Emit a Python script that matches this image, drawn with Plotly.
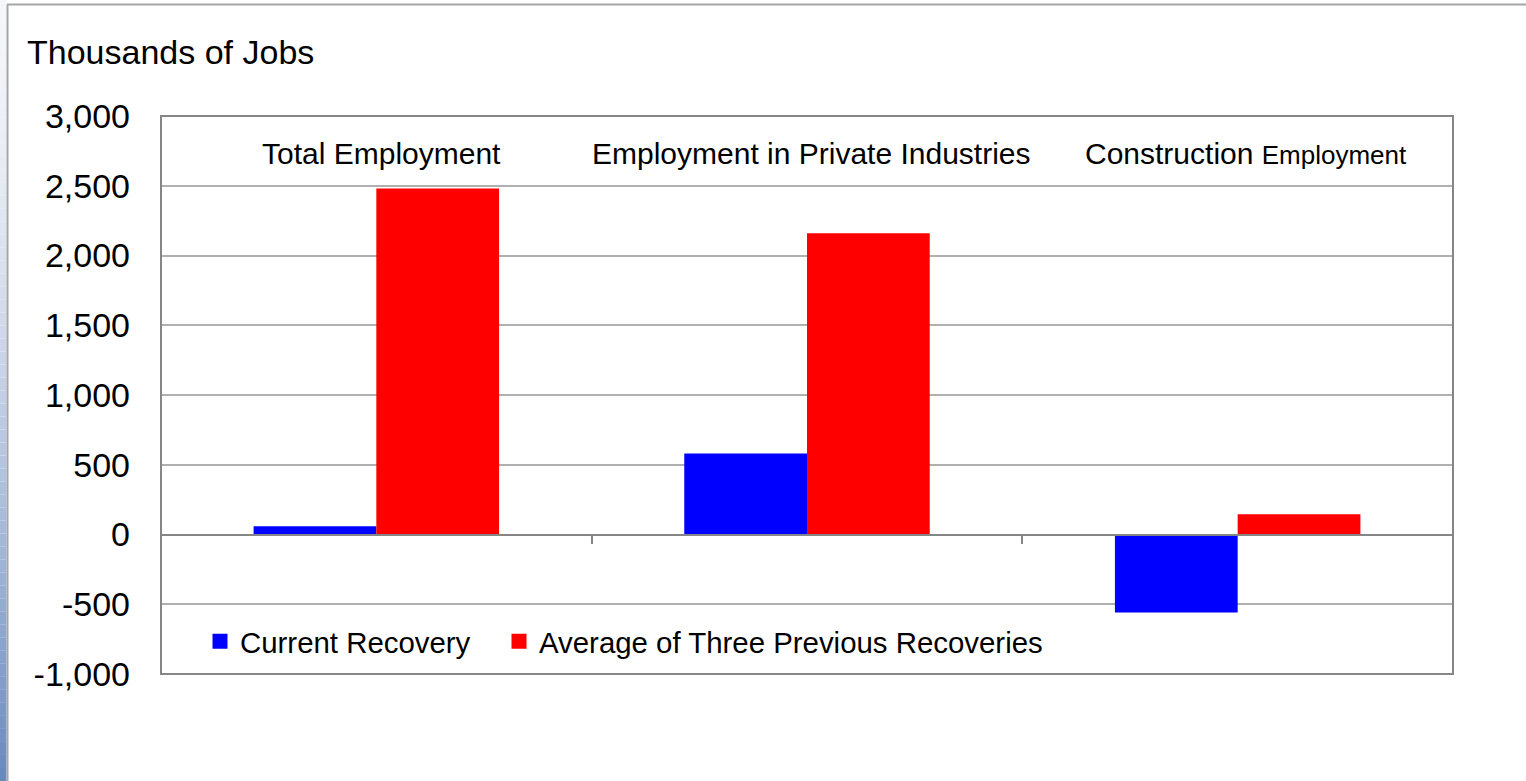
import plotly.graph_objects as go

categories = ["Total Employment", "Employment in Private Industries", "Construction Employment"]
current_recovery = [60, 580, -560]
previous_avg = [2480, 2160, 145]
series_names = ["Current Recovery", "Average of Three Previous Recoveries"]
series_colors = ["#0000FF", "#FF0000"]
y_tickvals = [-1000, -500, 0, 500, 1000, 1500, 2000, 2500, 3000]
y_ticktext = ["-1,000", "-500", "0", "500", "1,000", "1,500", "2,000", "2,500", "3,000"]
y_range = [-1000, 3000]

FONT = "Arial, Liberation Sans, sans-serif"
W, H = 1526, 781
ML, MR, MT, MB = 161, 73, 116, 107
PW, PH = W - ML - MR, H - MT - MB

fig = go.Figure()
for name, vals, col in zip(series_names, [current_recovery, previous_avg], series_colors):
    fig.add_trace(go.Bar(x=categories, y=vals, name=name, marker=dict(color=col, line=dict(width=0)),
                         showlegend=False))
# legend proxies (larger square symbols), each in its own legend for exact placement
legend_ids = ["legend", "legend2"]
for name, col, lg in zip(series_names, series_colors, legend_ids):
    fig.add_trace(go.Scatter(x=[None], y=[None], mode="markers", name=name, legend=lg,
                             marker=dict(symbol="square", size=15, color=col)))

# category labels inside top of plot area
for i, cat in enumerate(categories):
    if cat.startswith("Construction"):
        txt = 'Construction <span style="font-size:26px">Employment</span>'
    else:
        txt = cat
    fig.add_annotation(x=cat, xref="x", y=0.932, yref="paper", text=txt, showarrow=False,
                       yanchor="middle", xanchor="center",
                       xshift=5 if i == 0 else (4 if i == 1 else 8),
                       font=dict(family=FONT, size=30, color="#000000"))

shapes = []
# plot-area border
shapes.append(dict(type="rect", xref="paper", yref="paper", x0=0, x1=1, y0=0, y1=1,
                   line=dict(color="#868686", width=2), layer="above"))
# left gradient strip (decorative frame)
n = 60
top_c = (0xF4, 0xF6, 0xFA)
bot_c = (0x6A, 0x8A, 0xBE)
x_left = (0 - ML) / PW
x_right = (6.5 - ML) / PW
for k in range(n):
    t = k / (n - 1)
    t2 = t ** 1.5
    c = tuple(int(round(top_c[j] + (bot_c[j] - top_c[j]) * t2)) for j in range(3))
    y0p = (H - MB - (k * H / n)) / PH
    y1p = (H - MB - ((k + 1) * H / n)) / PH
    shapes.append(dict(type="rect", xref="paper", yref="paper", x0=x_left, x1=x_right,
                       y0=y1p, y1=y0p, line=dict(width=0),
                       fillcolor="rgb(%d,%d,%d)" % c, layer="below"))
# outer frame lines (top and left)
shapes.append(dict(type="line", xref="paper", yref="paper", x0=(7 - ML) / PW, x1=(W - ML) / PW,
                   y0=(H - MB - 4.5) / PH, y1=(H - MB - 4.5) / PH,
                   line=dict(color="#A6A6A6", width=2)))
shapes.append(dict(type="line", xref="paper", yref="paper", x0=(7.5 - ML) / PW, x1=(7.5 - ML) / PW,
                   y0=(H - MB - 4.5) / PH, y1=(0 - MB) / PH,
                   line=dict(color="#A6A6A6", width=2)))

zero_pos = (0 - y_range[0]) / (y_range[1] - y_range[0])

legend_common = dict(orientation="h", y=0.058, yanchor="middle", bgcolor="rgba(0,0,0,0)",
                     borderwidth=0, font=dict(family=FONT, size=29.4, color="#000000"),
                     itemclick=False, itemdoubleclick=False)

fig.update_layout(
    width=W, height=H,
    margin=dict(l=ML, r=MR, t=MT, b=MB, autoexpand=False),
    paper_bgcolor="white", plot_bgcolor="white",
    barmode="group", bargap=0.43, bargroupgap=0,
    title=dict(text="Thousands of Jobs", xref="container", yref="container",
               x=27 / W, xanchor="left", y=1 - 52 / H, yanchor="middle",
               font=dict(family=FONT, size=34, color="#000000")),
    xaxis=dict(type="category", range=[-0.5, 2.5], anchor="free", position=zero_pos,
               showline=True, linecolor="#868686", linewidth=2,
               ticks="outside", tickson="boundaries", ticklen=8, tickwidth=1.5, tickcolor="#868686",
               showticklabels=False, showgrid=False, zeroline=False, fixedrange=True),
    yaxis=dict(range=y_range, tickvals=y_tickvals, ticktext=y_ticktext,
               showgrid=True, gridcolor="#B0B0B0", gridwidth=1.5,
               zeroline=True, zerolinecolor="#868686", zerolinewidth=2,
               showline=False, ticks="", ticklabelstandoff=30,
               tickfont=dict(family=FONT, size=34, color="#000000"), fixedrange=True),
    legend=dict(x=(200 - ML) / PW, xanchor="left", **legend_common),
    legend2=dict(x=(499 - ML) / PW, xanchor="left", **legend_common),
    shapes=shapes,
    showlegend=True,
)

fig.write_html("out.html", config={"displayModeBar": False},
               post_script="document.body.style.margin='0';document.body.style.overflow='hidden';")
